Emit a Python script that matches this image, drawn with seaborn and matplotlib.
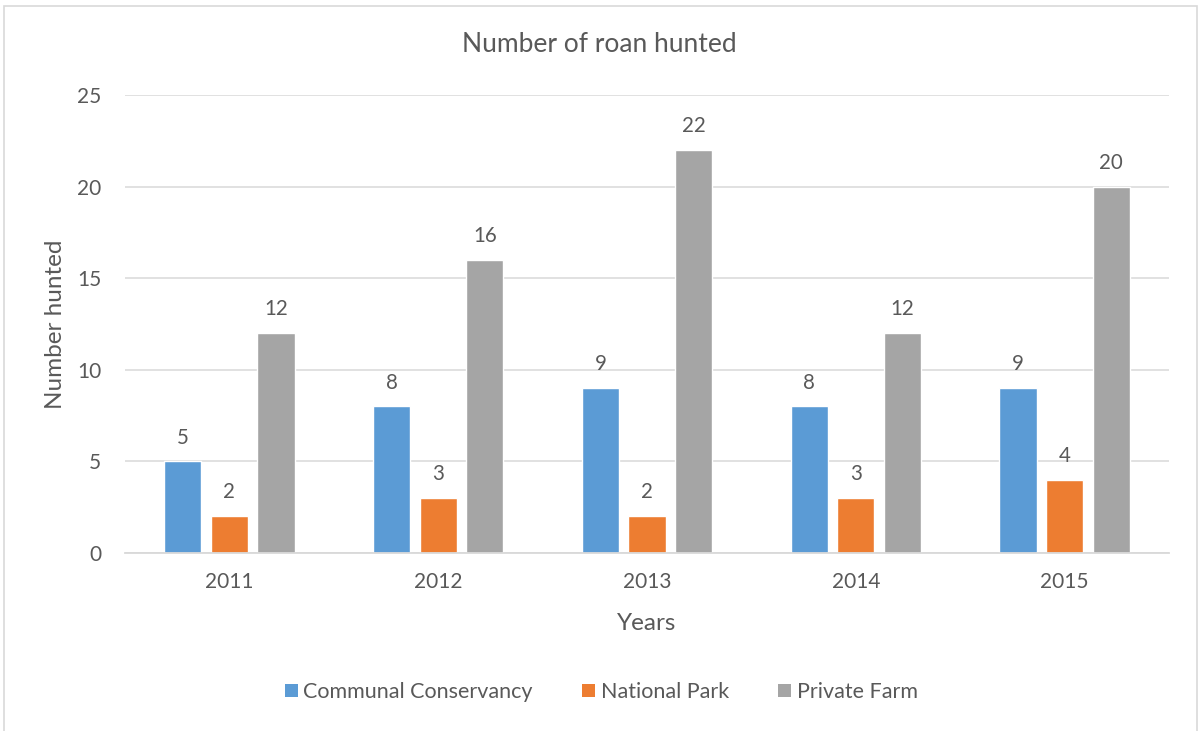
import matplotlib
matplotlib.use("Agg")
import matplotlib.pyplot as plt
from matplotlib.patches import Rectangle, Patch
import seaborn as sns
import pandas as pd

years = ["2011", "2012", "2013", "2014", "2015"]
communal_conservancy = [5, 8, 9, 8, 9]
national_park = [2, 3, 2, 3, 4]
private_farm = [12, 16, 22, 12, 20]
series_names = ["Communal Conservancy", "National Park", "Private Farm"]
colors = ["#5B9BD5", "#ED7D31", "#A5A5A5"]

rows = []
for name, vals in zip(series_names, [communal_conservancy, national_park, private_farm]):
    for y, v in zip(years, vals):
        rows.append({"Year": y, "Area": name, "Hunted": v})
df = pd.DataFrame(rows)

sns.set_theme(style="white")
plt.rcParams["font.family"] = ["Lato", "DejaVu Sans"]
text_color = "#595959"
grid_color = "#D9D9D9"

fig = plt.figure(figsize=(11.98, 7.31), dpi=100)
ax = fig.add_axes([125 / 1198, 1 - 553 / 731, (1169 - 125) / 1198, (553 - 95) / 731])

sns.barplot(data=df, x="Year", y="Hunted", hue="Area", order=years,
            hue_order=series_names, palette=colors, width=0.67, gap=0.2,
            saturation=1, ax=ax, legend=False, errorbar=None)

for cont in ax.containers:
    ax.bar_label(cont, fmt="%d", padding=10, fontsize=14.8, color=text_color)

ax.set_ylim(0, 25)
ax.set_xlim(-0.5, 4.5)
ax.set_yticks([0, 5, 10, 15, 20, 25])
ax.yaxis.grid(True, color=grid_color, linewidth=1.1)
ax.set_axisbelow(True)
for side in ["left", "right", "top"]:
    ax.spines[side].set_visible(False)
ax.spines["bottom"].set_color(grid_color)
ax.spines["bottom"].set_linewidth(1.3)
ax.tick_params(axis="both", length=0, labelsize=15, labelcolor=text_color)
ax.tick_params(axis="y", pad=17)
ax.tick_params(axis="x", pad=14)

ax.set_xlabel("Years", fontsize=17.5, color=text_color)
ax.set_ylabel("Number hunted", fontsize=17.5, color=text_color)
ax.xaxis.label.set_va("center")
ax.yaxis.label.set_va("center")
ax.xaxis.set_label_coords(0.5, (553 - 623) / 458)
ax.yaxis.set_label_coords((56 - 125) / 1044, 0.5)

fig.text(0.5, 1 - 45 / 731, "Number of roan hunted", ha="center", va="center",
         fontsize=19, color=text_color)

handles = [Patch(facecolor=c, edgecolor="none") for c in colors]
fig.legend(handles, series_names, loc="center", bbox_to_anchor=(0.502, 1 - 692 / 731),
           ncol=3, frameon=False, fontsize=15.5, labelcolor=text_color,
           handlelength=0.6, handleheight=0.6, handletextpad=0.25,
           columnspacing=2.3)

fig.patches.append(Rectangle((4 / 1198, -0.01), (1197 - 4) / 1198, 1.01 - 6 / 731,
                             transform=fig.transFigure, fill=False,
                             edgecolor=grid_color, linewidth=1.2))

fig.savefig("out.png", dpi=100, facecolor="white")
